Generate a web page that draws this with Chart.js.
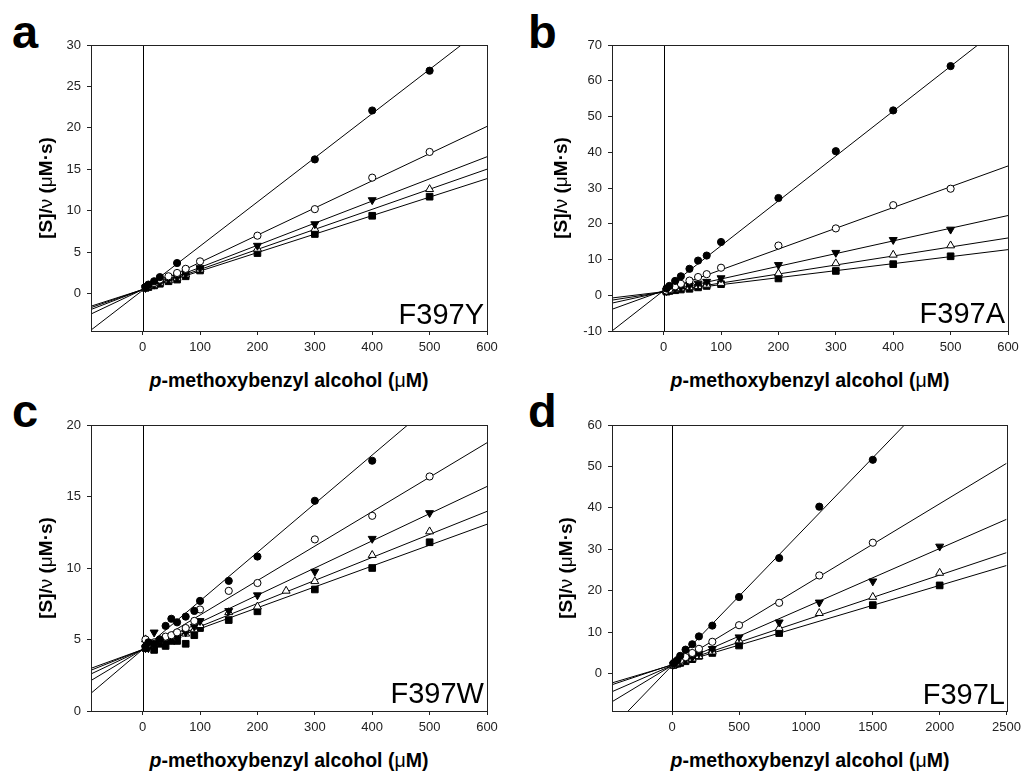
<!DOCTYPE html>
<html>
<head>
<meta charset="utf-8">
<script src="https://cdn.jsdelivr.net/npm/chart.js@4/dist/chart.umd.min.js"></script>
<style>
  body { margin: 0; background: #fff; }
  #wrap { position: relative; width: 1026px; height: 774px; background: #fff; font-family: 'Liberation Sans', Arial, Helvetica, sans-serif; color: #000; }
  canvas { position: absolute; }
  .letter { position: absolute; font-size: 47px; font-weight: bold; line-height: 47px; }
  .variant { position: absolute; font-size: 29px; line-height: 29px; transform: translateX(-100%); white-space: nowrap; }
  .xtitle { position: absolute; font-size: 19.5px; font-weight: bold; white-space: nowrap; transform: translate(-50%, -50%); }
  .ytitle { position: absolute; font-size: 19px; font-weight: bold; white-space: nowrap; transform: translate(-50%, -50%) rotate(-90deg); }
  .sym { font-weight: normal; }
</style>
</head>
<body>
<div id="wrap">
  <canvas id="chartA" width="465" height="330" style="left:40px;top:30px"></canvas>
  <canvas id="chartB" width="465" height="330" style="left:561px;top:30px"></canvas>
  <canvas id="chartC" width="465" height="330" style="left:40px;top:410px"></canvas>
  <canvas id="chartD" width="465" height="330" style="left:561px;top:410px"></canvas>

  <div class="letter" style="left:12px;top:8px">a</div>
  <div class="letter" style="left:528px;top:8px">b</div>
  <div class="letter" style="left:12px;top:387px">c</div>
  <div class="letter" style="left:528px;top:387px">d</div>

  <div class="variant" style="left:484px;top:300px">F397Y</div>
  <div class="variant" style="left:1005px;top:299px">F397A</div>
  <div class="variant" style="left:484px;top:679px">F397W</div>
  <div class="variant" style="left:1005px;top:680px">F397L</div>

  <div class="xtitle" style="left:289px;top:380px"><i>p</i>-methoxybenzyl alcohol (<span class="sym">μ</span>M)</div>
  <div class="xtitle" style="left:810px;top:380px"><i>p</i>-methoxybenzyl alcohol (<span class="sym">μ</span>M)</div>
  <div class="xtitle" style="left:289px;top:760px"><i>p</i>-methoxybenzyl alcohol (<span class="sym">μ</span>M)</div>
  <div class="xtitle" style="left:810px;top:760px"><i>p</i>-methoxybenzyl alcohol (<span class="sym">μ</span>M)</div>

  <div class="ytitle" style="left:46px;top:188px">[S]/<span class="sym">ν</span> (<span class="sym">μ</span>M·s)</div>
  <div class="ytitle" style="left:561px;top:188px">[S]/<span class="sym">ν</span> (<span class="sym">μ</span>M·s)</div>
  <div class="ytitle" style="left:46px;top:568px">[S]/<span class="sym">ν</span> (<span class="sym">μ</span>M·s)</div>
  <div class="ytitle" style="left:566px;top:568px">[S]/<span class="sym">ν</span> (<span class="sym">μ</span>M·s)</div>
</div>

<script>
// ---- panel a: F397Y ----
const concA = [5, 10, 20, 30, 45, 60, 75, 100, 200, 300, 400, 500];
const fcA = [0.8, 1.1, 1.5, 2.0, null, 3.7, null, null, null, 16.2, 22.1, 26.9];
const ocA = [0.8, 1.0, 1.3, 1.7, 2.1, 2.5, 3.0, 3.9, 7.0, 10.2, 14.0, 17.1];
const dtA = [0.7, 0.9, 1.1, 1.4, 1.7, 2.0, 2.4, 3.1, 5.8, 8.4, 11.3, null];
const otA = [0.7, 0.9, 1.0, 1.3, 1.6, 1.9, 2.3, 2.9, 5.4, 7.8, null, 12.6];
const sqA = [0.7, 0.8, 1.0, 1.2, 1.5, 1.7, 2.1, 2.8, 4.9, 7.2, 9.4, 11.7];
const slopeA = [0.0533, 0.0328, 0.0267, 0.0242, 0.0223];
const interA = [0.41, 0.5, 0.5, 0.5, 0.5];
const xRangeA = [-90, 600];
const yRangeA = [-4.5, 30];
const xTicksA = [0, 100, 200, 300, 400, 500, 600];
const yTicksA = [0, 5, 10, 15, 20, 25, 30];

// ---- panel b: F397A ----
const concB = [5, 10, 20, 30, 45, 60, 75, 100, 200, 300, 400, 500];
const fcB = [1.9, 2.6, 4.0, 5.3, 7.4, 9.7, 11.1, 14.9, 27.2, 40.3, 51.7, 64.1];
const ocB = [1.3, 1.7, 2.5, 3.2, 4.1, 5.1, 5.9, 7.7, 13.9, 18.7, 25.2, 29.8];
const dtB = [1.2, 1.5, 1.9, 2.3, 2.8, 3.3, 3.8, 4.8, 8.5, 11.9, 15.5, 18.4];
const otB = [1.1, 1.3, 1.6, 1.9, 2.2, 2.5, 2.9, 3.4, 6.1, 8.9, 11.3, 13.9];
const sqB = [1.0, 1.2, 1.4, 1.6, 1.8, 2.2, 2.6, 3.1, 4.7, 6.8, 8.7, 10.9];
const slopeB = [0.1255, 0.0581, 0.0355, 0.0252, 0.0196];
const interB = [1.3, 1.3, 1.0, 0.9, 1.0];
const xRangeB = [-90, 600];
const yRangeB = [-10, 70];
const xTicksB = [0, 100, 200, 300, 400, 500, 600];
const yTicksB = [-10, 0, 10, 20, 30, 40, 50, 60, 70];

// ---- panel c: F397W ----
const concC = [5, 10, 20, 30, 40, 50, 60, 75, 90, 100, 150, 200, 250, 300, 400, 500];
const fcC = [4.5, 4.8, 4.7, 5.0, 5.95, 6.45, 6.2, 6.6, 7.0, 7.7, 9.1, 10.8, null, 14.7, 17.5, null];
const ocC = [5.0, 4.7, 4.8, 5.0, 5.2, 5.3, 5.5, 5.8, 6.3, 7.1, 8.4, 8.95, null, 12.0, 13.65, 16.4];
const dtC = [4.4, 4.4, 5.5, 4.8, 4.8, 5.0, 5.2, 5.5, 5.9, 6.3, 7.0, 8.1, null, 9.75, 12.05, 13.85];
const otC = [5.0, 4.6, 4.7, 4.9, 5.0, 5.1, 5.3, 5.4, 5.7, 6.0, 6.9, 7.3, 8.4, 9.07, 10.9, 12.55];
const sqC = [4.4, 4.6, 4.27, 4.7, 4.55, 4.9, 4.9, 4.7, 5.3, 5.8, 6.36, 6.97, null, 8.5, 10.0, 11.8];
const slopeC = [0.034, 0.0241, 0.019, 0.0161, 0.0146];
const interC = [4.3, 4.3, 4.3, 4.3, 4.3];
const xRangeC = [-90, 600];
const yRangeC = [0, 20];
const xTicksC = [0, 100, 200, 300, 400, 500, 600];
const yTicksC = [0, 5, 10, 15, 20];

// ---- panel d: F397L ----
const concD = [10, 20, 40, 60, 100, 150, 200, 300, 500, 800, 1100, 1500, 2000];
const fcD = [2.5, 2.8, 3.3, 4.3, 5.8, 7.1, 9.0, 11.6, 18.5, 27.9, 40.3, 51.6, null];
const ocD = [2.3, 2.5, 2.9, 3.3, 4.0, 5.0, 6.0, 7.7, 11.7, 17.1, 23.7, 31.6, null];
const dtD = [2.2, 2.4, 2.6, 2.9, 3.4, 4.0, 4.9, 6.0, 8.8, 12.4, 17.2, 22.3, 30.7];
const otD = [2.2, 2.3, 2.5, 2.7, 3.2, 3.6, 4.2, 5.3, 8.0, 11.0, 14.6, 18.5, 24.3];
const sqD = [2.1, 2.3, 2.4, 2.6, 3.0, 3.5, 4.3, 5.0, 6.8, 9.8, null, 16.55, 21.3];
const slopeD = [0.0334, 0.0195, 0.0141, 0.0108, 0.0096];
const interD = [2.0, 2.0, 2.0, 2.2, 2.1];
const xRangeD = [-450, 2500];
const yRangeD = [-9, 60];
const xTicksD = [0, 500, 1000, 1500, 2000, 2500];
const yTicksD = [0, 10, 20, 30, 40, 50, 60];

// marker per series: filled circle, open circle, filled down triangle, open triangle, filled square
const markers = [
  { style: 'circle',   fill: '#000', rot: 0,   r: 3.6 },
  { style: 'circle',   fill: '#fff', rot: 0,   r: 3.6 },
  { style: 'triangle', fill: '#000', rot: 180, r: 4.6 },
  { style: 'triangle', fill: '#fff', rot: 0,   r: 4.6 },
  { style: 'rect',     fill: '#000', rot: 0,   r: 4.7 }
];

const tickFont = { family: "'Liberation Sans', Arial, sans-serif", size: 13 };

const framePlugin = {
  id: 'frame',
  beforeDatasetsDraw(chart) {
    const a = chart.chartArea, ctx = chart.ctx;
    const x0 = Math.round(chart.scales.x.getPixelForValue(0)) + 0.5;
    ctx.save();
    ctx.strokeStyle = '#000';
    ctx.lineWidth = 1;
    ctx.beginPath();
    ctx.moveTo(x0, a.top);
    ctx.lineTo(x0, a.bottom);
    ctx.stroke();
    ctx.restore();
  },
  afterDraw(chart) {
    const a = chart.chartArea, ctx = chart.ctx;
    ctx.save();
    ctx.strokeStyle = '#222';
    ctx.lineWidth = 1;
    ctx.strokeRect(Math.round(a.left) + 0.5, Math.round(a.top) + 0.5,
      Math.round(a.right - a.left), Math.round(a.bottom - a.top));
    ctx.restore();
  }
};

function makePanel(canvasId, conc, series, slopes, inters, xRange, yRange, xTicks, yTicks) {
  const datasets = [];
  series.forEach((ys, i) => {
    const m = markers[i];
    datasets.push({
      type: 'scatter',
      data: conc.map((c, k) => ({ x: c, y: ys[k] })).filter(p => p.y !== null),
      pointStyle: m.style,
      pointRotation: m.rot,
      pointRadius: m.r,
      pointBackgroundColor: m.fill,
      pointBorderColor: '#000',
      pointBorderWidth: 1
    });
  });
  // fitted lines across the whole x range
  slopes.forEach((s, i) => {
    datasets.push({
      type: 'line',
      data: xRange.map(x => ({ x: x, y: inters[i] + s * x })),
      borderColor: '#000',
      borderWidth: 1,
      pointRadius: 0,
      fill: false
    });
  });

  new Chart(document.getElementById(canvasId), {
    data: { datasets },
    options: {
      responsive: false,
      animation: false,
      devicePixelRatio: 1,
      layout: { padding: { top: 15, right: 18, left: 0, bottom: 0 } },
      plugins: { legend: { display: false }, tooltip: { enabled: false } },
      scales: {
        x: {
          type: 'linear',
          min: xRange[0], max: xRange[1],
          afterBuildTicks(scale) { scale.ticks = xTicks.map(v => ({ value: v })); },
          afterFit(scale) { scale.height = 29; },
          ticks: { autoSkip: false, maxRotation: 0, callback: v => String(v),
                   font: tickFont, color: '#222', padding: 5 },
          grid: { drawOnChartArea: false, drawTicks: true, tickLength: 4, color: '#222' },
          border: { display: true, color: '#222' }
        },
        y: {
          type: 'linear',
          min: yRange[0], max: yRange[1],
          afterBuildTicks(scale) { scale.ticks = yTicks.map(v => ({ value: v })); },
          afterFit(scale) { scale.width = 51; },
          ticks: { autoSkip: false, callback: v => String(v),
                   font: tickFont, color: '#222', padding: 6 },
          grid: { drawOnChartArea: false, drawTicks: true, tickLength: 4, color: '#222' },
          border: { display: true, color: '#222' }
        }
      }
    },
    plugins: [framePlugin]
  });
}

makePanel('chartA', concA, [fcA, ocA, dtA, otA, sqA], slopeA, interA, xRangeA, yRangeA, xTicksA, yTicksA);
makePanel('chartB', concB, [fcB, ocB, dtB, otB, sqB], slopeB, interB, xRangeB, yRangeB, xTicksB, yTicksB);
makePanel('chartC', concC, [fcC, ocC, dtC, otC, sqC], slopeC, interC, xRangeC, yRangeC, xTicksC, yTicksC);
makePanel('chartD', concD, [fcD, ocD, dtD, otD, sqD], slopeD, interD, xRangeD, yRangeD, xTicksD, yTicksD);
</script>
</body>
</html>
